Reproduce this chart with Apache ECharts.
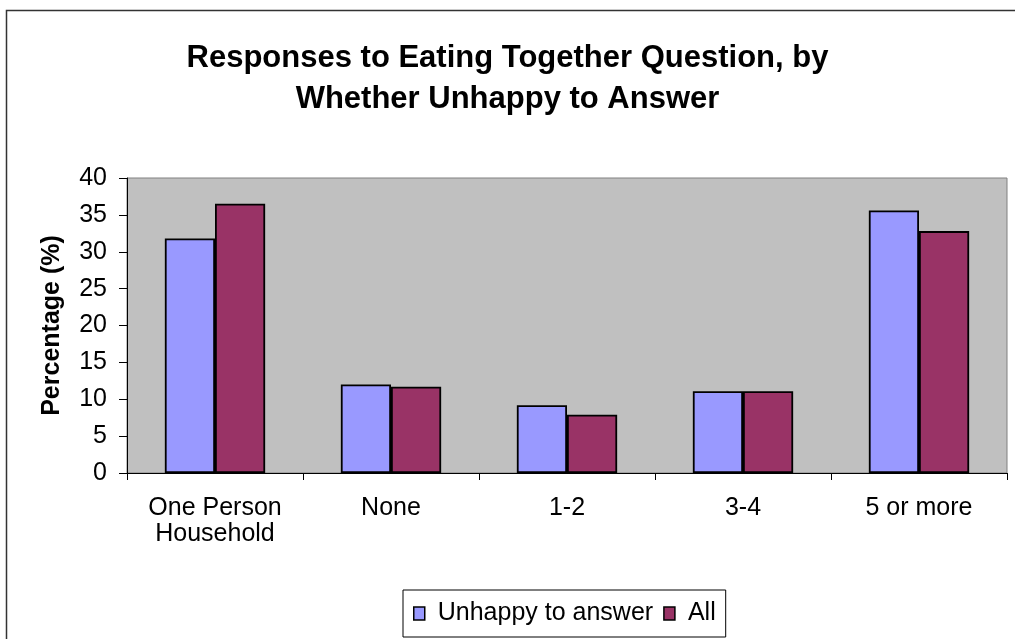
<!DOCTYPE html>
<html>
<head>
<meta charset="utf-8">
<script src="https://cdn.jsdelivr.net/npm/echarts@6/dist/echarts.min.js"></script>
<style>
  html, body { margin: 0; padding: 0; background: #fff; }
  #chart { width: 1015px; height: 639px; }
</style>
</head>
<body>
<div id="chart"></div>
<script>
// categories and values
const categories = ['One Person\nHousehold', 'None', '1-2', '3-4', '5 or more'];
const unhappyValues = [31.8, 12.0, 9.2, 11.1, 35.6];
const allValues = [36.5, 11.7, 7.9, 11.1, 32.8];
const seriesNames = ['Unhappy to answer', 'All'];

const font = 'Liberation Sans, Arial, sans-serif';
const chart = echarts.init(document.getElementById('chart'));

chart.setOption({
  animation: false,
  textStyle: { fontFamily: font, color: '#000' },
  // outer chart frame (only top/left edges visible in the crop)
  graphic: [{
    type: 'rect',
    shape: { x: 6.5, y: 10.5, width: 1100, height: 700 },
    style: { fill: 'none', stroke: '#333', lineWidth: 1.5 },
    z: -1
  }],
  title: {
    text: 'Responses to Eating Together Question, by\nWhether Unhappy to Answer',
    left: 'center',
    top: 33,
    textStyle: { fontFamily: font, fontSize: 31, fontWeight: 'bold', lineHeight: 41, color: '#000' }
  },
  grid: {
    left: 127, right: 8, top: 178, bottom: 166,
    show: true,
    backgroundColor: '#C0C0C0',
    borderColor: '#808080',
    borderWidth: 1
  },
  legend: {
    data: seriesNames,
    left: 403, top: 590,
    icon: 'rect',
    itemWidth: 11, itemHeight: 13,
    itemGap: 10,
    padding: [11, 10, 11, 10],
    borderColor: '#000', borderWidth: 1,
    itemStyle: { borderColor: '#000', borderWidth: 1.5 },
    textStyle: { fontFamily: font, fontSize: 25, color: '#000', padding: [0, 0, 0, 8] }
  },
  xAxis: {
    type: 'category',
    data: categories,
    axisLine: { lineStyle: { color: '#000', width: 1 } },
    axisTick: { show: true, length: 7, lineStyle: { color: '#000' } },
    axisLabel: { fontSize: 25, color: '#000', margin: 22, lineHeight: 26, interval: 0 },
    splitLine: { show: false }
  },
  yAxis: {
    type: 'value',
    min: 0, max: 40, interval: 5,
    name: 'Percentage (%)',
    nameLocation: 'middle',
    nameGap: 62,
    nameTextStyle: { fontFamily: font, fontSize: 25, fontWeight: 'bold', color: '#000' },
    axisLine: { show: true, lineStyle: { color: '#000', width: 1 } },
    axisTick: { show: true, length: 8, lineStyle: { color: '#000' } },
    axisLabel: { fontSize: 25, color: '#000', margin: 20 },
    splitLine: { show: false }
  },
  series: [
    {
      name: seriesNames[0],
      type: 'bar',
      data: unhappyValues,
      barGap: '0%',
      barCategoryGap: '43%',
      itemStyle: { color: '#9999FF', borderColor: '#000', borderWidth: 1.8 }
    },
    {
      name: seriesNames[1],
      type: 'bar',
      data: allValues,
      itemStyle: { color: '#993366', borderColor: '#000', borderWidth: 1.8 }
    }
  ]
});
</script>
</body>
</html>
